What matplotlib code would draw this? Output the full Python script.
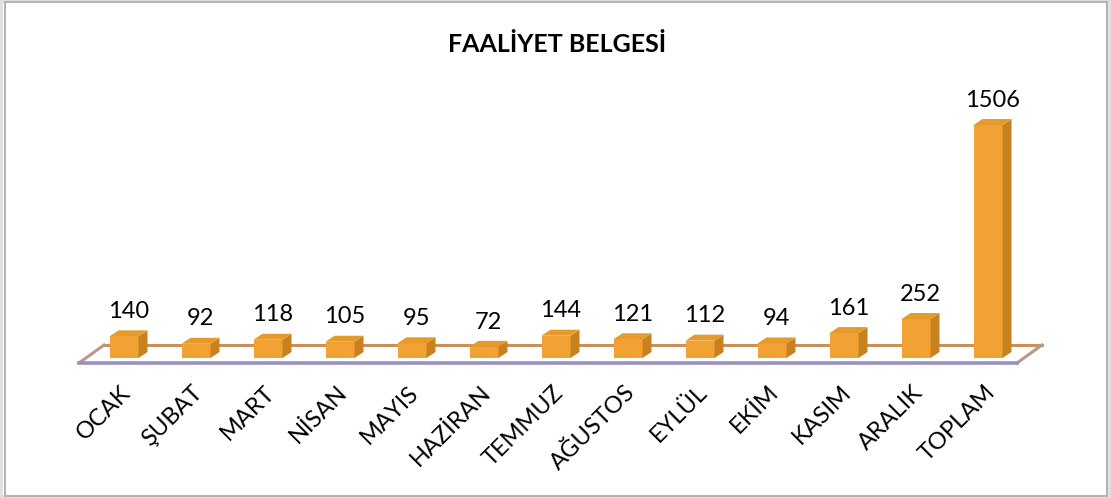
import numpy as np
from matplotlib import pyplot as plt
from matplotlib.patches import Polygon, Rectangle

months = ['OCAK', 'ŞUBAT', 'MART', 'NİSAN', 'MAYIS', 'HAZİRAN', 'TEMMUZ',
          'AĞUSTOS', 'EYLÜL', 'EKİM', 'KASIM', 'ARALIK', 'TOPLAM']
counts = [140, 92, 118, 105, 95, 72, 144, 121, 112, 94, 161, 252, 1506]
title = 'FAALİYET BELGESİ'

plt.rcParams['font.family'] = ['Lato', 'DejaVu Sans']

W, H = 1111, 498
fig = plt.figure(figsize=(W / 100, H / 100), dpi=100)

# pixel geometry of the plot area
px_x0, px_step = 124.0, 72.0      # x pixel of first bar, spacing
px_y0, px_per = 358.0, 0.1547     # baseline pixel, pixels per unit
ax_l, ax_r, ax_t, ax_b = 40, 1070, 60, 400
ax = fig.add_axes([ax_l / W, 1 - ax_b / H, (ax_r - ax_l) / W, (ax_b - ax_t) / H])
ax.set_xlim((ax_l - px_x0) / px_step, (ax_r - px_x0) / px_step)
ax.set_ylim((px_y0 - ax_b) / px_per, (px_y0 - ax_t) / px_per)
ax.axis('off')

def ux(p):  # pixels -> x units
    return p / px_step

def uy(p):  # pixels -> y units
    return p / px_per

x = np.arange(len(months))
w = ux(29)
ddx, ddy = ux(9), uy(6)

# floor
fx0, fx1, fy = ux(79 - px_x0), ux(1017 - px_x0), uy(px_y0 - 363)
fdx, fdy = ux(25), uy(18)
floor = Polygon([(fx0, fy), (fx1, fy), (fx1 + fdx, fy + fdy), (fx0 + fdx, fy + fdy)],
                closed=True, facecolor='white', edgecolor='none', zorder=1)
ax.add_patch(floor)
ax.plot([fx0 + fdx, fx1 + fdx], [fy + fdy, fy + fdy], color='#c8915a', lw=2.2, zorder=1.5)
ax.plot([fx0, fx0 + fdx], [fy, fy + fdy], color='#b89a8a', lw=2.2, zorder=1.5)
ax.plot([fx1, fx1 + fdx], [fy, fy + fdy], color='#b89a8a', lw=2.2, zorder=1.5)
ax.plot([fx0, fx1], [fy, fy], color='#9a90b8', lw=2.6, zorder=1.5)

# bars
ax.bar(x, counts, width=w, color='#f2a233', edgecolor='none', zorder=3)
for xi, v in zip(x, counts):
    r = xi + w / 2
    l = xi - w / 2
    side = Polygon([(r, 0), (r + ddx, ddy), (r + ddx, v + ddy), (r, v)],
                   closed=True, facecolor='#c9801f', edgecolor='none', zorder=3)
    top = Polygon([(l, v), (l + ddx, v + ddy), (r + ddx, v + ddy), (r, v)],
                  closed=True, facecolor='#e59a2c', edgecolor='none', zorder=3)
    ax.add_patch(side)
    ax.add_patch(top)
    ax.annotate(str(v), (xi + ddx / 2, v + ddy), xytext=(0, 6), textcoords='offset points',
                ha='center', va='bottom', fontsize=17, color='black')

for xi, m in zip(x, months):
    ax.text(xi + 0.05, uy(px_y0 - 389), m, rotation=45, rotation_mode='anchor',
            ha='right', va='center', fontsize=17, color='black')

fig.text(557 / W, 1 - 45 / H, title, ha='center', va='center', fontsize=18,
         fontweight='bold', color='black')

# chart frame
fig.patches.append(Rectangle((0, 0), 1, 1, transform=fig.transFigure,
                             facecolor='none', edgecolor='#e0e0e0', lw=4))
fig.patches.append(Rectangle((5 / W, 2 / H), 1102 / W, 494 / H, transform=fig.transFigure,
                             facecolor='none', edgecolor='#b4b4b4', lw=1.5))

fig.savefig('out.png', dpi=100)
